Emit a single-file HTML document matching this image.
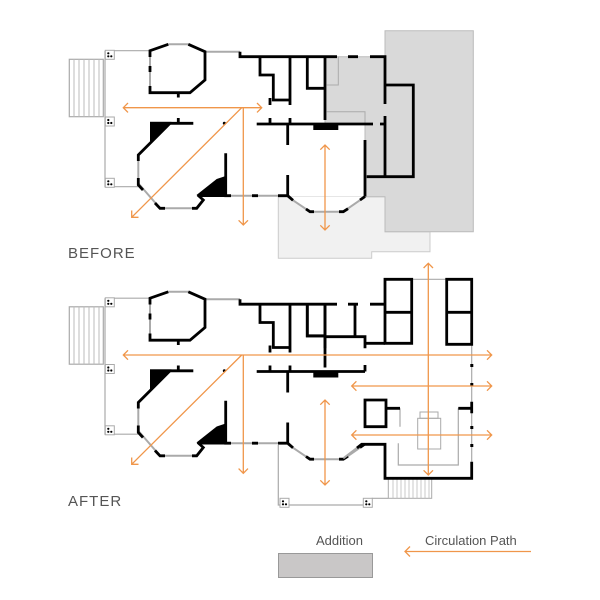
<!DOCTYPE html>
<html><head><meta charset="utf-8"><style>
html,body{margin:0;padding:0;background:#fff;}
svg{display:block;font-family:"Liberation Sans",sans-serif;}
</style></head><body>
<svg width="600" height="600" viewBox="0 0 600 600" xmlns="http://www.w3.org/2000/svg">
<defs>
<g id="post"><rect x="-4" y="-4" width="9" height="9" fill="#fff" stroke="#aaa" stroke-width="1"/><circle cx="-1" cy="-1" r="1.1" fill="#000"/><circle cx="2" cy="2" r="1.1" fill="#000"/><circle cx="-1" cy="2" r="1.1" fill="#000"/></g>
<g id="house">
 <!-- stairs -->
 <rect x="69.3" y="59.3" width="34" height="57.4" fill="#fff" stroke="#aaa" stroke-width="1.2"/>
 <path d="M74,59.3V116.7M79,59.3V116.7M84,59.3V116.7M89,59.3V116.7M94,59.3V116.7M99,59.3V116.7" stroke="#bbb" stroke-width="1"/>
 <!-- porch -->
 <path d="M105,50.7H150M105,50.7V186.7H138" fill="none" stroke="#aaa" stroke-width="1.2"/>
 <use href="#post" x="109.3" y="54.3"/><use href="#post" x="109.3" y="121"/><use href="#post" x="109.3" y="182.3"/>
 <!-- gray window lines -->
 <path d="M150,50.7V92.7M168.3,44.3H188.3M205,51.7H240M138.3,155V183.3L160,208.3H196.7L203.3,200M225.7,195.7H287.7M287.7,196.7L310,211.7H343.3L365,196.7" fill="none" stroke="#aaa" stroke-width="2"/>
 <g fill="none" stroke="#000" stroke-width="2.8" stroke-linejoin="miter">
 <path d="M150,57V50.7L168.3,44.3M188.3,44.3L205,51.7V80L190,92.7H150V86M150,66V72"/>
 <path d="M240,51.7V56.7H330"/>
 <path d="M260,56.7V75H273.3V100H290M290,56.7V105M307.3,56.7V88.3H325M325,56.7V120M270,98V105M270,118V124M290,118V124"/>
 <path d="M178.3,92.7V97.5M150,123.3H193.3M178.3,118V123M256.7,124H365M287.7,124V145M287.7,175V196.7"/>
 <path d="M170,123.3L138.3,155V161M138.3,178V185L143,190M155,203L160,208.3H165M192,208.3H196.7L203.3,200L197.7,195"/>
 <path d="M225.7,153.3V195.7H231M252,195.7H258M278,195.7H287.7L293,200.3M306,209L310,211.7H314M339,211.7H343.3L348,208.7M360,200L365,196.5"/>
 </g>
 <circle cx="224.3" cy="123.3" r="1.5" fill="#000"/>
 <polygon points="150,121.9 171.5,121.9 150,143.3" fill="#000"/>
 <polygon points="196.5,195 216.7,179 225.7,176 225.7,197 200,197" fill="#000"/>
 <rect x="313.3" y="123" width="25" height="7" fill="#000"/>
</g>
<g id="arr" fill="none" stroke="#f0964a" stroke-width="1.3"></g>
</defs>

<!-- BEFORE additions -->
<polygon points="278.3,196.7 385,196.7 385,231.7 430,231.7 430,251.7 371.7,251.7 371.7,258.3 278.3,258.3" fill="#f1f1f1" stroke="#ccc" stroke-width="1"/>
<polygon points="287.7,196.7 310,211.7 343.3,211.7 365,196.7" fill="#fff"/>
<polygon points="385,30.7 473.3,30.7 473.3,231.7 385,231.7 385,196.7 365,196.7 365,124 325,124 325,56.7 385,56.7" fill="#d9d9d9" stroke="#bbb" stroke-width="1"/>
<path d="M326.7,85H338.3V56.7M326.7,111.7H365V124" fill="none" stroke="#aaa" stroke-width="1"/>
<use href="#house"/>
<g fill="none" stroke="#000" stroke-width="2.8">
<path d="M330,56.7H337M348,56.7H358M370,56.7H385V104M385,116V176.7M366.7,176.7H413.3V85H385M365,196.5V140M365,124H373M380,124H385"/>
</g>

<!-- BEFORE arrows -->
<g fill="none" stroke="#f0964a" stroke-width="1.3">
<path d="M123.3,107.7H261.7M128,103L123.3,107.7L128,112.4M257,103L261.7,107.7L257,112.4"/>
<path d="M241.7,107.7L131.7,217.3M131.7,210.5V217.3H138.5"/>
<path d="M243.3,107.7V225M238.6,220.3L243.3,225L248,220.3"/>
<path d="M325,145V230M320.3,149.7L325,145L329.7,149.7M320.3,225.3L325,230L329.7,225.3"/>
</g>
<text x="68" y="258" font-size="15" fill="#555" letter-spacing="1">BEFORE</text>

<!-- AFTER -->
<g transform="translate(0,247.5)"><use href="#house"/></g>
<!-- after gray -->
<path d="M278.3,445V505H371.7M371.7,498.3H388.3M398.3,443.3V465H458.3V408.3M400,408.3V426.7M411.7,279.3H446.7M471.7,344.3V461.7" fill="none" stroke="#aaa" stroke-width="1.2"/>
<rect x="417.7" y="418.3" width="23" height="30.7" fill="none" stroke="#aaa" stroke-width="1"/>
<rect x="420" y="412" width="18" height="6.3" fill="none" stroke="#aaa" stroke-width="1"/>
<rect x="388.3" y="478.3" width="43.4" height="20" fill="#fff" stroke="#aaa" stroke-width="1"/>
<path d="M393,478.3V498.3M397,478.3V498.3M401,478.3V498.3M405,478.3V498.3M409,478.3V498.3M413,478.3V498.3M417,478.3V498.3M421,478.3V498.3M425,478.3V498.3M429,478.3V498.3" stroke="#bbb" stroke-width="0.8"/>
<use href="#post" x="284" y="502.3"/><use href="#post" x="367.3" y="502.3"/>
<path d="M343.3,458.3L361.7,444.3" stroke="#aaa" stroke-width="2"/>
<g fill="none" stroke="#000" stroke-width="2.8">
<path d="M330,304.2H337M348,304.2H358M370,304.2H385"/>
<path d="M307.3,304.2V336H325M325,304.2V348.3M355,304.2V336.7M325,336.7H365V348.3M365,343.3H385"/>
<path d="M365,371.5V365M385,279.3H411.7V343.3H385ZM385,312.3H411.7M446.7,279.3H471.7V344.3H446.7ZM446.7,312.3H471.7"/>
<path d="M471.7,401.7V413.3M458.3,408.3H471.7M471.7,461.7V478.3H385V444.3H361.7L357,448"/>
<path d="M365,400H386V426.7H365ZM386,408.3H400"/>
</g>
<g fill="#000"><rect x="470.3" y="364" width="3" height="3"/><rect x="470.3" y="383" width="3" height="3"/><rect x="470.3" y="426" width="3" height="3"/><rect x="470.3" y="444" width="3" height="3"/></g>
<g fill="none" stroke="#f0964a" stroke-width="1.3">
<path d="M123.3,355H491.7M128,350.3L123.3,355L128,359.7M487,350.3L491.7,355L487,359.7"/>
<path d="M351.7,386H491.7M356.4,381.3L351.7,386L356.4,390.7M487,381.3L491.7,386L487,390.7"/>
<path d="M351.7,435H491.7M356.4,430.3L351.7,435L356.4,439.7M487,430.3L491.7,435L487,439.7"/>
<path d="M428.3,263.3V475M423.6,268L428.3,263.3L433,268M423.6,470.3L428.3,475L433,470.3"/>
<path d="M241.7,355L131.7,464.3M131.7,457.5V464.3H138.5"/>
<path d="M243.3,355V473.3M238.6,468.6L243.3,473.3L248,468.6"/>
<path d="M325,400V485M320.3,404.7L325,400L329.7,404.7M320.3,480.3L325,485L329.7,480.3"/>
</g>
<text x="68" y="506" font-size="15" fill="#555" letter-spacing="1">AFTER</text>

<!-- legend -->
<text x="316" y="545" font-size="13" fill="#555">Addition</text>
<rect x="278.5" y="553.5" width="94" height="24" fill="#c9c7c7" stroke="#999" stroke-width="1"/>
<text x="425" y="545" font-size="13" fill="#555">Circulation Path</text>
<path d="M405,551.5H531M410,546.5L405,551.5L410,556.5" fill="none" stroke="#f0964a" stroke-width="1.3"/>
</svg>
</body></html>
